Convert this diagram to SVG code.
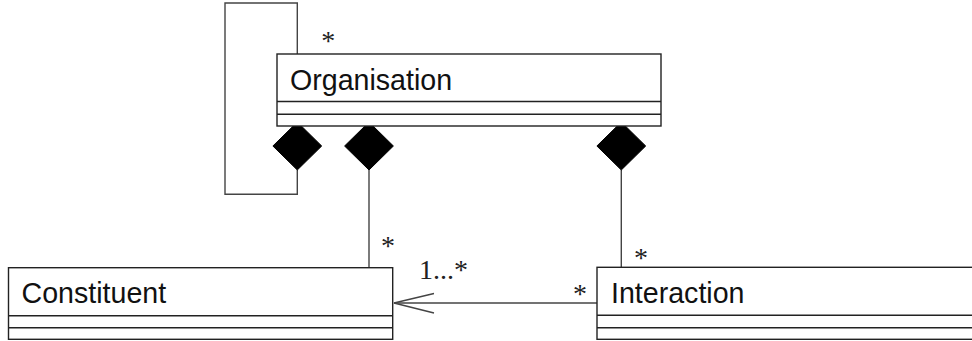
<svg xmlns="http://www.w3.org/2000/svg" width="972" height="341" viewBox="0 0 972 341">
<style>
.box{fill:#fff;stroke:#222;stroke-width:1.4}
.sep{stroke:#222;stroke-width:1.4}
.name{font-family:"Liberation Sans",Arial,sans-serif;font-size:28.6px;fill:#111}
.mult{font-family:"Liberation Serif","Times New Roman",serif;font-size:28px;fill:#222}
.line{fill:none;stroke:#444;stroke-width:1.4}
.dia{fill:#000;stroke:#000;stroke-width:1}
</style>
<rect width="972" height="341" fill="#fff"/>
<g id="connectors">
<path class="line" d="M297.3,54 V3 H225 V194.3 H297.3 V170"/>
<path class="line" d="M369,170 V267.7"/>
<path class="line" d="M621.3,170 V267.3"/>
<path class="line" d="M597,303 H394"/>
<polyline class="line" points="434,293.5 394,303 434,313"/>
<polygon class="dia" points="297.3,122 321.7,146 297.3,170 272.9,146"/>
<polygon class="dia" points="369,122 393.4,146 369,170 344.6,146"/>
<polygon class="dia" points="621.3,122 645.7,146 621.3,170 596.9,146"/>
<text class="mult" x="328.3" y="50" text-anchor="middle">*</text>
<text class="mult" x="388" y="255" text-anchor="middle">*</text>
<text class="mult" x="419" y="279">1...*</text>
<text class="mult" x="641" y="267" text-anchor="middle">*</text>
<text class="mult" x="580" y="303" text-anchor="middle">*</text>
</g>
<g id="organisation">
<rect class="box" x="277" y="54" width="384" height="72"/>
<line class="sep" x1="277" y1="101.5" x2="661" y2="101.5"/>
<line class="sep" x1="277" y1="114.3" x2="661" y2="114.3"/>
<text class="name" x="290" y="90">Organisation</text>
</g>
<g id="constituent">
<rect class="box" x="8.5" y="267.7" width="384.2" height="71.6"/>
<line class="sep" x1="8.5" y1="315.7" x2="392.7" y2="315.7"/>
<line class="sep" x1="8.5" y1="327.7" x2="392.7" y2="327.7"/>
<text class="name" x="21.5" y="303.3">Constituent</text>
</g>
<g id="interaction">
<rect class="box" x="597" y="267.3" width="400" height="72"/>
<line class="sep" x1="597" y1="315.3" x2="997" y2="315.3"/>
<line class="sep" x1="597" y1="327.7" x2="997" y2="327.7"/>
<text class="name" x="611" y="302.7">Interaction</text>
</g>
</svg>
